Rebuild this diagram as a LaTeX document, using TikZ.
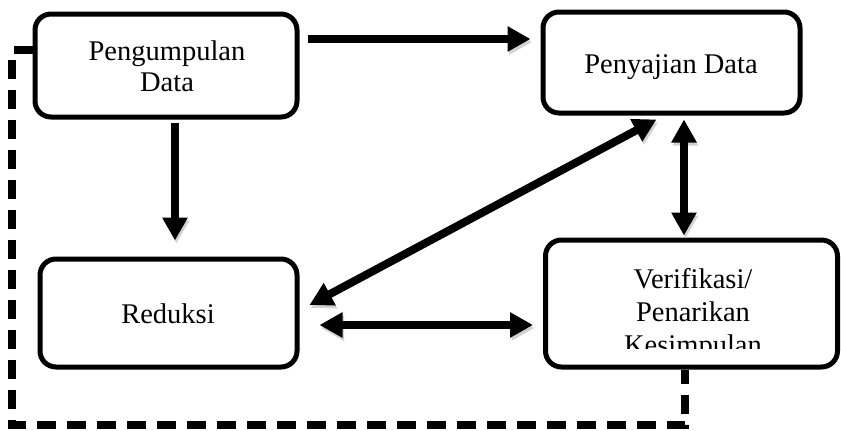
\documentclass[tikz,border=0pt]{standalone}
\usepackage{fontspec}
\setmainfont{Liberation Serif}
\usetikzlibrary{arrows.meta,calc}
\begin{document}
\begin{tikzpicture}[x=1pt,y=-1pt,
  shade/.style={preaction={draw=black!18,transform canvas={xshift=1.5pt,yshift=-3pt}}},
  box/.style={draw,line width=5pt,rounded corners=16pt,fill=white,inner sep=0pt},
  lbl/.style={anchor=base,inner sep=0pt,font=\fontsize{28.5}{33}\selectfont},
  conn/.style={shade,line width=8pt,-{Triangle[length=23pt,width=24pt]}},
  both/.style={shade,line width=8pt,{Triangle[length=23pt,width=24pt]}-{Triangle[length=23pt,width=24pt]}},
  loopline/.style={line width=8pt,dash pattern=on 19pt off 11pt}]
\useasboundingbox (0,0) rectangle (841,431);
% feedback dashed line
\coordinate (d1) at (12,50);
\coordinate (d2) at (12,425);
\coordinate (d3) at (685,425);
\coordinate (d4) at (685,368);
% boxes
\node[box,minimum width=262pt,minimum height=103pt] (P) at (166,65.5) {};
\node[box,minimum width=257pt,minimum height=101pt] (S) at (671.5,62.5) {};
\node[box,minimum width=257pt,minimum height=108pt] (R) at (168.5,313) {};
\node[box,minimum width=292pt,minimum height=127pt] (V) at (691.5,303.5) {};
\draw[loopline] ($(P.west)+(0,-15.5)$) -- (d1) -- (d2) -- (d3) -- (V.south -| d4);
% labels
\node[lbl] (p1) at (167,60) {Pengumpulan};
\node[lbl] (p2) at (167,91) {Data};
\node[lbl] (s1) at (671,73) {Penyajian Data};
\node[lbl] (r1) at (168,323) {Reduksi};
\begin{scope}
\clip (545,240) rectangle (840,348);
\node[lbl] (v1) at (693,288) {Verifikasi/};
\node[lbl] (v2) at (693,321) {Penarikan};
\node[lbl] (v3) at (693,354) {Kesimpulan};
\end{scope}
% connectors
\draw[conn] ($(P.east)+(8,-26.5)$) -- ($(S.west)+(-10,-23.5)$);
\draw[conn] ($(P.south)+(9,3)$) -- ($(R.north)+(6.5,-16)$);
\draw[both] ($(R.east)+(10,-8)$) -- ($(S.south)+(-15,4)$);
\draw[both] ($(S.south)+(12.5,4)$) -- ($(V.north)+(-7.5,-2)$);
\draw[both] ($(R.east)+(20,12)$) -- ($(V.west)+(-10,21.5)$);
\end{tikzpicture}
\end{document}
